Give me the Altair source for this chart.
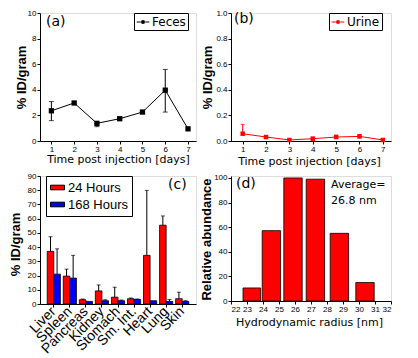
import altair as alt
import pandas as pd

# ---------------- data ----------------
days = [1, 2, 3, 4, 5, 6, 7]
feces = [2.36, 2.97, 1.38, 1.74, 2.26, 3.97, 0.95]
feces_lo = [1.59, 2.97, 1.12, 1.74, 2.26, 2.26, 0.95]
feces_hi = [3.08, 2.97, 1.38, 1.74, 2.26, 5.59, 0.95]

urine = [0.057, 0.031, 0.008, 0.018, 0.031, 0.036, 0.008]
urine_hi = [0.13, 0.031, 0.008, 0.030, 0.045, 0.050, 0.008]

organs = ["Liver", "Spleen", "Pancreas", "Kidney", "Stomach", "Sm. Int.", "Heart", "Lung", "Skin"]
h24 = [37.0, 19.6, 3.0, 9.2, 4.8, 3.7, 34.2, 55.4, 3.7]
h24_err = [47.3, 24.5, 3.5, 13.4, 11.8, 4.2, 79.9, 61.9, 8.3]
h168 = [21.0, 18.2, 1.8, 2.3, 2.3, 3.2, 2.3, 1.8, 1.8]
h168_err = [38.8, 34.2, 1.8, 3.0, 2.8, 3.5, 2.3, 3.2, 2.3]

bin_start = [22.75, 23.95, 25.3, 26.7, 28.2, 29.8]
bin_end = [23.85, 25.1, 26.45, 27.85, 29.35, 30.95]
abundance = [10.6, 57.2, 100.0, 99.0, 55.0, 15.0]

LAB = "Liberation Sans"
DJ = "DejaVu Sans"

W1, W2, H = 156, 160, 128


def xaxis(vals, title, ty):
    return alt.Axis(values=vals, title=title, labelFontSize=8, labelFont=LAB, labelOverlap=False,
                    tickSize=3, labelPadding=1, titleFont=DJ, titleFontSize=11, titleFontWeight="normal",
                    titleX=78, titleY=ty, titleBaseline="middle", grid=False, domainColor="black",
                    tickColor="black", labelColor="black", titleColor="black")


def yaxis(vals, fmt, title, tx, ty):
    return alt.Axis(values=vals, format=fmt, title=title, labelFontSize=8, labelFont=LAB, tickSize=3,
                    labelOverlap=False, labelPadding=1, titleFont=LAB, titleFontSize=13, titleFontWeight="bold",
                    titleX=tx, titleY=ty, titleBaseline="middle", titleAngle=270, grid=False,
                    domainColor="black", tickColor="black", labelColor="black", titleColor="black")


def linelegend(lx, fill):
    return alt.Legend(orient="none", legendX=lx, legendY=0, title=None,
                      strokeColor="black", padding=2, labelFont=DJ, labelFontSize=12, labelColor="black",
                      symbolType="M-1,0H-0.35M0.35,0H1M-0.2,-0.2H0.2V0.2H-0.2Z",
                      symbolSize=160, symbolStrokeWidth=1, symbolFillColor=fill, labelOffset=2)


def panel_label(t, x, y):
    return alt.Chart(pd.DataFrame({"t": [t]})).mark_text(
        align="left", baseline="middle", font=DJ, fontSize=14, color="black").encode(
        x=alt.value(x), y=alt.value(y), text="t:N")


# ---------------- (a) ----------------
dfa = pd.DataFrame({"day": days, "v": feces, "lo": feces_lo, "hi": feces_hi, "s": ["Feces"] * 7})
xa = alt.Scale(domain=[0.5, 7.35], nice=False)
ya = alt.Scale(domain=[0, 10], nice=False)
axXa = xaxis(days, "Time post injection [days]", 18)
axYa = yaxis([0, 2, 4, 6, 8, 10], "d", "% ID/gram", -19, 64)
baseA = alt.Chart(dfa)
lineA = baseA.mark_line(color="black", strokeWidth=1).encode(
    x=alt.X("day:Q", scale=xa, axis=axXa),
    y=alt.Y("v:Q", scale=ya, axis=axYa),
    color=alt.Color("s:N", scale=alt.Scale(domain=["Feces"], range=["black"]), legend=linelegend(94, "black")),
)
ptsA = baseA.mark_point(shape="square", filled=True, size=28, color="black", opacity=1).encode(
    x=alt.X("day:Q", axis=axXa), y=alt.Y("v:Q", axis=axYa))
errbase = baseA.transform_filter("datum.hi > datum.lo")
errA = errbase.mark_rule(color="black", strokeWidth=1).encode(
    x=alt.X("day:Q", axis=axXa), y=alt.Y("lo:Q", axis=axYa), y2="hi:Q")
capA1 = errbase.mark_tick(color="black", size=5, thickness=1, orient="horizontal").encode(
    x=alt.X("day:Q", axis=axXa), y=alt.Y("lo:Q", axis=axYa))
capA2 = errbase.mark_tick(color="black", size=5, thickness=1, orient="horizontal").encode(
    x=alt.X("day:Q", axis=axXa), y=alt.Y("hi:Q", axis=axYa))
chartA = alt.layer(lineA, errA, capA1, capA2, ptsA, panel_label("(a)", 6, 9)).properties(width=W1, height=H)

# ---------------- (b) ----------------
dfb = pd.DataFrame({"day": days, "v": urine, "hi": urine_hi, "s": ["Urine"] * 7})
yb = alt.Scale(domain=[0, 1.0], nice=False)
axXb = xaxis(days, "Time post injection [days]", 20)
axYb = yaxis([0, 0.2, 0.4, 0.6, 0.8, 1.0], ".1f", "% ID/gram", -24, 64)
baseB = alt.Chart(dfb)
lineB = baseB.mark_line(color="red", strokeWidth=1).encode(
    x=alt.X("day:Q", scale=xa, axis=axXb),
    y=alt.Y("v:Q", scale=yb, axis=axYb),
    color=alt.Color("s:N", scale=alt.Scale(domain=["Urine"], range=["red"]), legend=linelegend(98, "red")),
)
ptsB = baseB.mark_point(shape="square", filled=True, size=20, color="red", opacity=1).encode(
    x=alt.X("day:Q", axis=axXb), y=alt.Y("v:Q", axis=axYb))
errbB = baseB.transform_filter("datum.hi > datum.v")
errB = errbB.mark_rule(color="red", strokeWidth=1).encode(
    x=alt.X("day:Q", axis=axXb), y=alt.Y("v:Q", axis=axYb), y2="hi:Q")
capB = errbB.mark_tick(color="red", size=4, thickness=1, orient="horizontal").encode(
    x=alt.X("day:Q", axis=axXb), y=alt.Y("hi:Q", axis=axYb))
chartB = alt.layer(lineB, errB, capB, ptsB, panel_label("(b)", 3, 6)).properties(width=W2, height=H)

# ---------------- (c) ----------------
rows = []
for o, a, ae, b, be in zip(organs, h24, h24_err, h168, h168_err):
    rows.append({"organ": o, "grp": "24 Hours", "v": a, "e": ae})
    rows.append({"organ": o, "grp": "168 Hours", "v": b, "e": be})
dfc = pd.DataFrame(rows)
grps = ["24 Hours", "168 Hours"]
xc = alt.Scale(domain=organs, paddingInner=0.18, paddingOuter=0.45)
yc = alt.Scale(domain=[0, 90], nice=False)
cax = alt.Axis(title=None, labelAngle=-45, labelAlign="right", labelBaseline="middle", labelFont=LAB,
               labelFontSize=14, tickSize=3, labelPadding=2, domainColor="black", tickColor="black",
               labelColor="black", labelOverlap=False)
axYc = yaxis(list(range(0, 91, 10)), "d", "% ID/gram", -25, 68)
colc = alt.Scale(domain=grps, range=["#ff0000", "#0000ff"])
offc = alt.Scale(domain=grps, paddingInner=0.0)
baseC = alt.Chart(dfc)
barsC = baseC.mark_bar(stroke="black", strokeWidth=0.8).encode(
    x=alt.X("organ:N", scale=xc, axis=cax, sort=organs),
    xOffset=alt.XOffset("grp:N", scale=offc, sort=grps),
    y=alt.Y("v:Q", scale=yc, axis=axYc),
    color=alt.Color("grp:N", scale=colc, sort=grps,
                    legend=alt.Legend(orient="none", legendX=6, legendY=0, title=None,
                                      strokeColor="black", padding=4, labelFont=LAB, labelFontSize=13,
                                      labelColor="black",
                                      symbolType="M-1,-0.33H1V0.33H-1Z", symbolSize=196,
                                      symbolStrokeColor="black", symbolStrokeWidth=1, rowPadding=2,
                                      labelOffset=3)),
)
errbC = baseC.transform_filter("datum.e > datum.v")
errC = errbC.mark_rule(color="black", strokeWidth=1).encode(
    x=alt.X("organ:N", sort=organs, axis=cax), xOffset=alt.XOffset("grp:N", sort=grps),
    y=alt.Y("v:Q", axis=axYc), y2="e:Q")
capC = errbC.mark_tick(color="black", size=4, thickness=1, orient="horizontal", xOffset=2).encode(
    x=alt.X("organ:N", sort=organs, axis=cax), xOffset=alt.XOffset("grp:N", sort=grps),
    y=alt.Y("e:Q", axis=axYc))
chartC = alt.layer(barsC, errC, capC, panel_label("(c)", 128, 9)).properties(width=W1, height=H)

# ---------------- (d) ----------------
dfd = pd.DataFrame({"s": bin_start, "e": bin_end, "v": abundance})
xd = alt.Scale(domain=[22, 32], nice=False)
yd = alt.Scale(domain=[0, 101.6], nice=False)
barsD = alt.Chart(dfd).mark_rect(color="#ff0000", stroke="black", strokeWidth=0.8).encode(
    x=alt.X("s:Q", scale=xd, axis=xaxis(list(range(22, 33)), "Hydrodynamic radius [nm]", 21)), x2="e:Q",
    y=alt.Y("v:Q", scale=yd, axis=yaxis([0, 20, 40, 60, 80, 100], "d", "Relative abundance", -25, 63)),
    y2=alt.datum(0))
avgD = alt.Chart(pd.DataFrame({"t": ["Average=", "26.8 nm"], "yy": [9, 25]})).mark_text(
    align="left", baseline="middle", font=DJ, fontSize=11, color="black").encode(
    x=alt.value(100), y=alt.Y("yy:Q", scale=None), text="t:N")
chartD = alt.layer(barsD, panel_label("(d)", 5, 8), avgD).properties(width=W2, height=125)

chart = alt.concat(chartA, chartB, chartC, chartD, columns=2, spacing={"row": 35, "column": 35},
                   bounds="flush", align="each").resolve_scale(
    color="independent", x="independent", y="independent", xOffset="independent"
).properties(
    padding={"left": 0, "top": 0, "right": 0, "bottom": 0}
).configure_view(stroke=None).configure_axis(labelOverlap=False).configure(background="white")

chart.save("out.html", embed_options={"renderer": "svg", "actions": False})
